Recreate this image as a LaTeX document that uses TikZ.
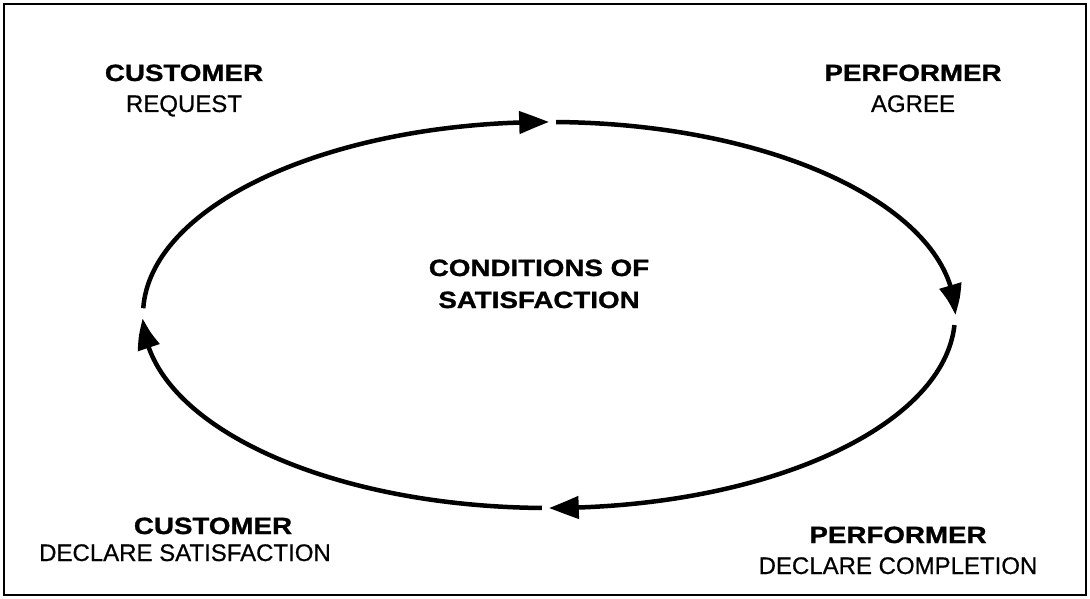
\documentclass[tikz,border=0pt]{standalone}
\usepackage{fontspec}
\setmainfont{Liberation Sans}[UprightFeatures={FakeBold=0.6}, BoldFeatures={FakeStretch=1.18, FakeBold=1.2}]
\usetikzlibrary{arrows.meta,bending}

\tikzset{
  role/.style={anchor=base, inner sep=0pt, font=\fontsize{23.5}{28}\selectfont\bfseries},
  act/.style={anchor=base, inner sep=0pt, font=\fontsize{24}{28}\selectfont},
  cycle/.style={line width=4.5pt, -{Triangle[length=30pt,width=22pt,bend]}}
}

\begin{document}
\begin{tikzpicture}[x=1pt, y=-1pt]
\useasboundingbox (0,0) rectangle (1090,599);
\draw[line width=2pt] (4,4) rectangle (1086,595);

% the loop
\coordinate (c) at (549,315);
\draw[cycle] (c) ++(182:406 and 193) arc[start angle=182, end angle=270, x radius=406, y radius=193];
\draw[cycle] (c) ++(271:406 and 193) arc[start angle=271, end angle=360, x radius=406, y radius=193];
\draw[cycle] (c) ++(3:406 and 193) arc[start angle=3, end angle=90, x radius=406, y radius=193];
\draw[cycle] (c) ++(91:406 and 193) arc[start angle=91, end angle=179, x radius=406, y radius=193];

% labels
\node[role] (cust) at (184,81) {CUSTOMER};
\node[act] (req) at (184,112) {REQUEST};
\node[role] (perf) at (913,81) {PERFORMER};
\node[act] (agree) at (913,112) {AGREE};
\node[role] (cos) at (539,276) {CONDITIONS OF};
\node[role] (sat) at (539,308) {SATISFACTION};
\node[role] (cust2) at (213,534) {CUSTOMER};
\node[act] (declsat) at (185,561) {DECLARE SATISFACTION};
\node[role] (perf2) at (898,543) {PERFORMER};
\node[act] (declcomp) at (898,574) {DECLARE COMPLETION};
\end{tikzpicture}
\end{document}
